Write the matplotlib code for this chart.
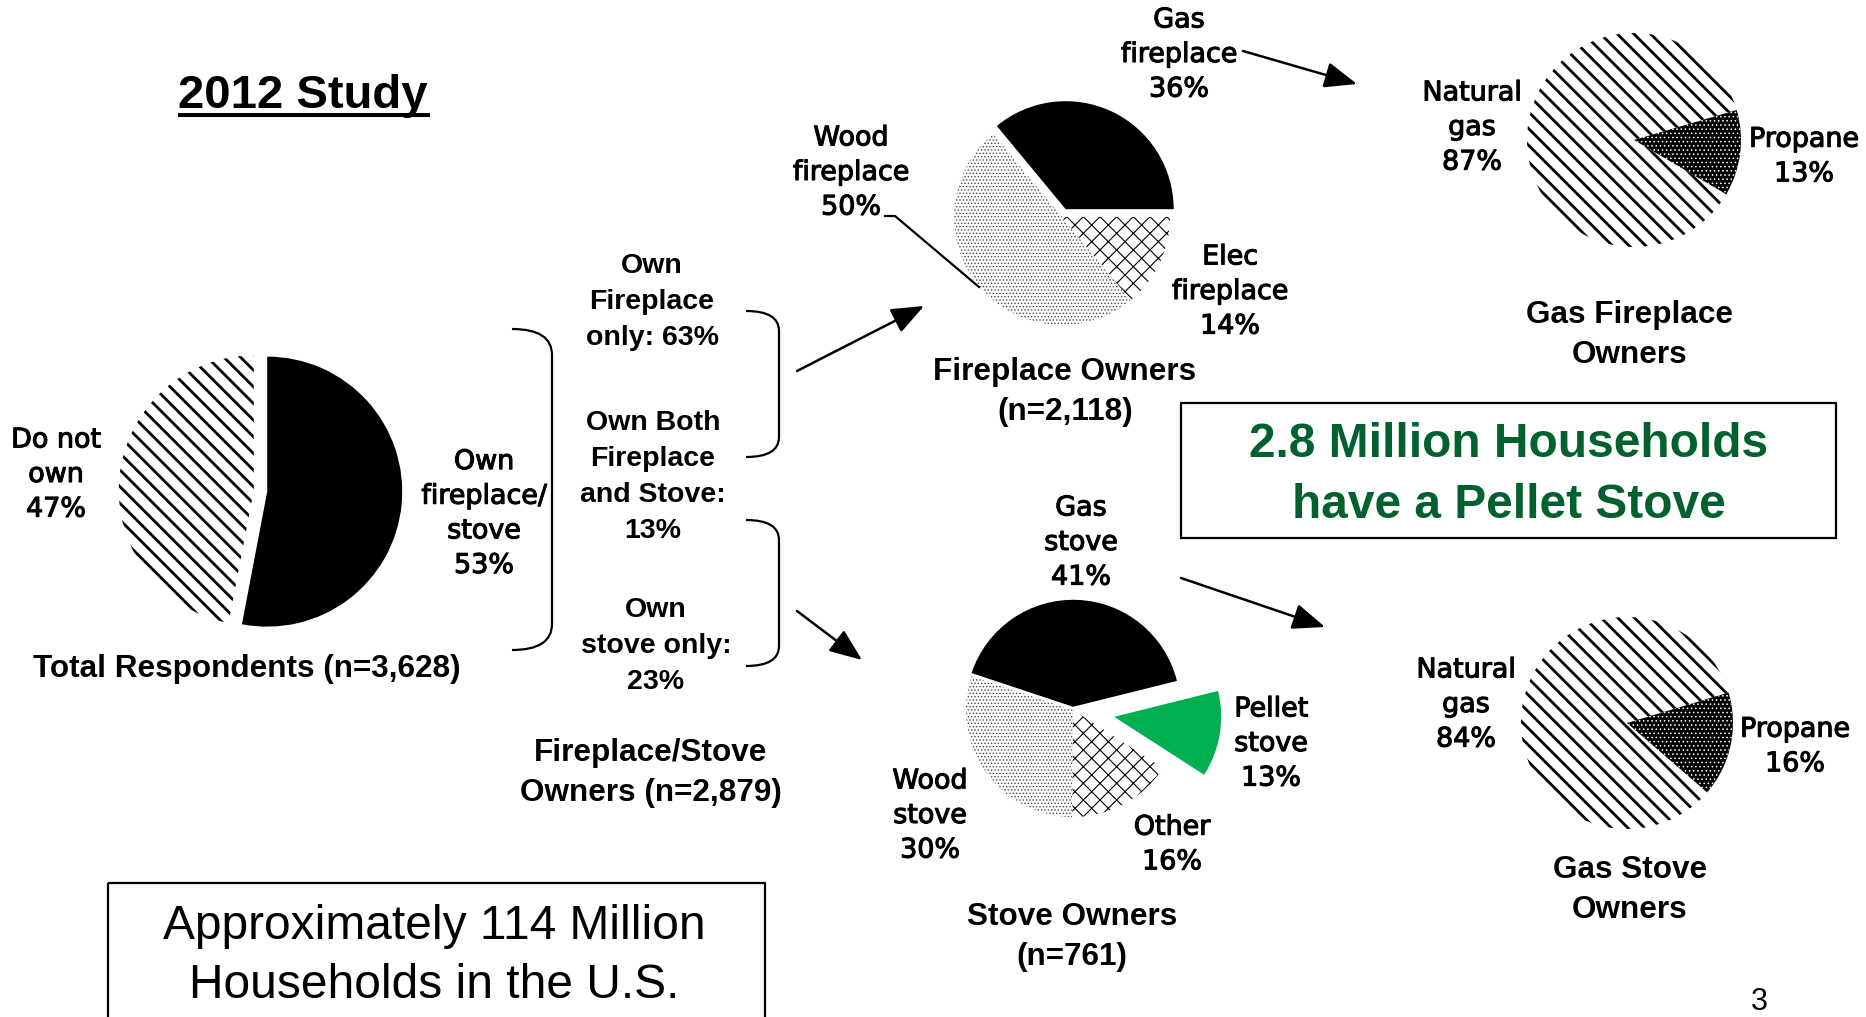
import matplotlib
matplotlib.use('Agg')
import matplotlib.pyplot as plt
import matplotlib.patheffects as pe
from matplotlib.patches import Rectangle, PathPatch
from matplotlib.path import Path

plt.rcParams['font.family'] = 'Liberation Sans'
plt.rcParams['hatch.linewidth'] = 2.0

# survey data
total_labels = ['Own\nfireplace/\nstove', 'Do not\nown']
total_pct = [53, 47]
n_total = 3628

group_labels = ['Own\nFireplace\nonly:', 'Own Both\nFireplace\nand Stove:', 'Own\nstove only:']
group_pct = [63, 13, 23]
n_owners = 2879

fireplace_labels = ['Gas\nfireplace', 'Wood\nfireplace', 'Elec\nfireplace']
fireplace_pct = [36, 50, 14]
n_fireplace = 2118

stove_labels = ['Gas\nstove', 'Wood\nstove', 'Other', 'Pellet\nstove']
stove_pct = [41, 30, 16, 13]
n_stove = 761

fuel_labels = ['Natural\ngas', 'Propane']
gas_fireplace_pct = [87, 13]
gas_stove_pct = [84, 16]

W, H = 1866, 1017
fig = plt.figure(figsize=(W / 100, H / 100), dpi=100)

BLACK = ('black', '', 'black', 1.0)
STRIPES = ('white', '\\\\', 'black', 2.0)
DOTS = ('white', '.....', '#444444', 0.6)
CROSS = ('white', 'xx', 'black', 0.8)
DARKDOTS = ('black', '....', 'white', 0.6)
GREEN = ('#00b050', '', '#00b050', 1.0)


def pie_at(cx, cy, r, vals, start, styles, explode, clockwise=False):
    ax = fig.add_axes([(cx - r) / W, 1 - (cy + r) / H, 2 * r / W, 2 * r / H])
    wedges, _ = ax.pie(vals, startangle=start, counterclock=not clockwise,
                       explode=explode, wedgeprops=dict(linewidth=0))
    ax.set_aspect('auto')
    ax.set_xlim(-1, 1)
    ax.set_ylim(-1, 1)
    ax.axis('off')
    for w, (fc, hatch, hc, hlw) in zip(wedges, styles):
        w.set_facecolor(fc)
        w.set_edgecolor(hc)
        w.set_linewidth(0)
        if hatch:
            w.set_hatch(hatch)
            if hasattr(w, 'set_hatch_linewidth'):
                w.set_hatch_linewidth(hlw)
        w.set_clip_on(False)
    return ax


pie_at(260.5, 491, 135, total_pct, 90, [BLACK, STRIPES], [0.05, 0.05], clockwise=True)
pie_at(1062, 217, 108, fireplace_pct, 0, [BLACK, DOTS, CROSS], [0.08, 0, 0])
pie_at(1073, 710, 107, stove_pct, 14, [BLACK, DOTS, CROSS, GREEN], [0.03, 0, 0, 0.39])
pie_at(1634, 140, 107, gas_fireplace_pct, 16.3, [STRIPES, DARKDOTS], [0, 0])
pie_at(1627, 723, 106, gas_stove_pct, 16.7, [STRIPES, DARKDOTS], [0, 0])

# overlay for text, brackets and arrows (pixel coordinates)
ov = fig.add_axes([0, 0, 1, 1])
ov.set_xlim(0, W)
ov.set_ylim(H, 0)
ov.axis('off')
ov.patch.set_visible(False)

thick = [pe.withStroke(linewidth=0.8, foreground='black')]
lab = dict(family='DejaVu Sans', fontsize=19.4, ha='center', va='center', linespacing=1.43,
           path_effects=thick)
head = dict(fontsize=22.7, fontweight='bold', ha='center', va='center', linespacing=1.42)

# title
ov.text(178, 108, '2012 Study', fontsize=34, fontweight='bold', ha='left', va='baseline')
ov.plot([178, 430], [115, 115], color='black', lw=2.9, solid_capstyle='butt')

# total respondents
ov.text(484, 514, f'{total_labels[0]}\n{total_pct[0]}%', **lab)
ov.text(56, 475, f'{total_labels[1]}\n{total_pct[1]}%', **lab)
ov.text(247, 669, f'Total Respondents (n={n_total:,})', **head)

# owner groups
seps = [' ', '\n', '\n']
for (x, y), g, p, s in zip([(652, 302), (653, 477), (656, 646)], group_labels, group_pct, seps):
    ov.text(x, y, f'{g}{s}{p}%', fontsize=20.5, fontweight='bold', ha='center',
            va='center', linespacing=1.5)
ov.text(651, 773, f'Fireplace/Stove\nOwners (n={n_owners:,})', **head)


def bracket(x0, x1, y0, y1, ry):
    verts = [(x0, y0), (x1, y0), (x1, y0 + ry), (x1, y1 - ry), (x1, y1), (x0, y1)]
    codes = [Path.MOVETO, Path.CURVE3, Path.CURVE3, Path.LINETO, Path.CURVE3, Path.CURVE3]
    ov.add_patch(PathPatch(Path(verts, codes), fill=False, lw=1.6, edgecolor='black'))


bracket(512, 552, 329, 650, 26)
bracket(746, 779, 311, 457, 20)
bracket(746, 779, 520, 666, 20)

arrow = dict(arrowstyle='-|>,head_length=0.8,head_width=0.32', color='black', lw=1.8,
             mutation_scale=25, shrinkA=0, shrinkB=0)
ov.annotate('', xy=(924, 306), xytext=(797, 371), arrowprops=arrow)
ov.annotate('', xy=(862, 660), xytext=(797, 611), arrowprops=arrow)
ov.annotate('', xy=(1357, 84), xytext=(1243, 51), arrowprops=arrow)
ov.annotate('', xy=(1325, 627), xytext=(1181, 578), arrowprops=arrow)

# fireplace owners
ov.text(1179, 55, f'{fireplace_labels[0]}\n{fireplace_pct[0]}%', **lab)
ov.text(851, 173, f'{fireplace_labels[1]}\n{fireplace_pct[1]}%', **lab)
ov.text(1230, 292, f'{fireplace_labels[2]}\n{fireplace_pct[2]}%', **lab)
ov.plot([885, 895, 979], [216, 216, 287], color='black', lw=1.6)
ov.text(1065, 392, f'Fireplace Owners\n(n={n_fireplace:,})', **head)

# stove owners
ov.text(1081, 543, f'{stove_labels[0]}\n{stove_pct[0]}%', **lab)
ov.text(930, 816, f'{stove_labels[1]}\n{stove_pct[1]}%', **lab)
ov.text(1172, 845, f'{stove_labels[2]}\n{stove_pct[2]}%', **lab)
ov.text(1271, 744, f'{stove_labels[3]}\n{stove_pct[3]}%', **lab)
ov.text(1072, 937, f'Stove Owners\n(n={n_stove:,})', **head)

# gas fireplace / gas stove owners
ov.text(1472, 128, f'{fuel_labels[0]}\n{gas_fireplace_pct[0]}%', **lab)
ov.text(1804, 157, f'{fuel_labels[1]}\n{gas_fireplace_pct[1]}%', **lab)
ov.text(1630, 335, 'Gas Fireplace\nOwners', **head)
ov.text(1466, 705, f'{fuel_labels[0]}\n{gas_stove_pct[0]}%', **lab)
ov.text(1795, 747, f'{fuel_labels[1]}\n{gas_stove_pct[1]}%', **lab)
ov.text(1630, 890, 'Gas Stove\nOwners', **head)

# call-out boxes
ov.add_patch(Rectangle((1181, 403), 655, 135, fill=False, lw=1.6, edgecolor='black'))
ov.text(1509, 475, '2.8 Million Households\nhave a Pellet Stove', fontsize=34.5, fontweight='bold',
        color='#00612e', ha='center', va='center', linespacing=1.45)
ov.add_patch(Rectangle((108, 883), 657, 200, fill=False, lw=1.6, edgecolor='black', clip_on=False))
ov.text(434, 956, 'Approximately 114 Million\nHouseholds in the U.S.', fontsize=34.5,
        ha='center', va='center', linespacing=1.4)
ov.text(1759, 1002, '3', fontsize=22, ha='center', va='center')

fig.savefig('out.png', dpi=100)
